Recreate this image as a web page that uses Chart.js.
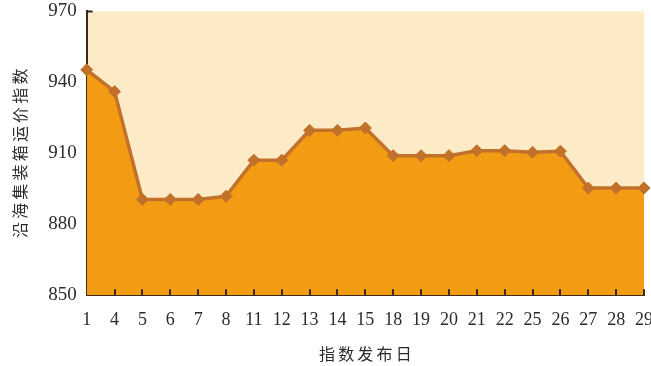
<!DOCTYPE html>
<html>
<head>
<meta charset="utf-8">
<script src="https://cdn.jsdelivr.net/npm/chart.js@4"></script>
<style>
  html, body { margin: 0; padding: 0; background: #fff; overflow: hidden; }
  #wrap { width: 667px; height: 376px; margin-top: -10px; }
</style>
</head>
<body>
<div id="wrap"><canvas id="chart"></canvas></div>
<script>
// 指数发布日
const days = ['1', '4', '5', '6', '7', '8', '11', '12', '13', '14', '15', '18', '19', '20', '21', '22', '25', '26', '27', '28', '29'];
// 沿海集装箱运价指数
const indexValues = [945.3, 936.1, 890.5, 890.5, 890.5, 891.8, 907.1, 907.1, 919.7, 919.7, 920.7, 909.0, 909.0, 909.0, 911.1, 911.1, 910.4, 910.9, 895.3, 895.3, 895.3];
const yTicks = [850, 880, 910, 940, 970];

// 字间距
const spaced = s => s.split('').join('\u2009');

// 绘图区背景 + 向内的刻度线
const plotDecor = {
    id: 'plotDecor',
    beforeDraw(chart) {
        const a = chart.chartArea;
        const ctx = chart.ctx;
        ctx.save();
        ctx.fillStyle = '#FCEBC6';
        ctx.fillRect(a.left, a.top, a.right - a.left, a.bottom - a.top);
        ctx.restore();
    },
    afterDraw(chart) {
        const a = chart.chartArea;
        const ctx = chart.ctx;
        const x = chart.scales.x;
        ctx.save();
        ctx.strokeStyle = '#3B2A1C';
        ctx.lineWidth = 2;
        ctx.beginPath();
        for (let i = 1; i < days.length; i++) {
            const px = Math.round(x.getPixelForTick(i));
            ctx.moveTo(px, a.bottom);
            ctx.lineTo(px, a.bottom - 6);
        }
        // 顶部短刻度
        ctx.moveTo(a.left, a.top);
        ctx.lineTo(a.left + 6, a.top);
        ctx.stroke();
        ctx.restore();
    }
};

new Chart(document.getElementById('chart').getContext('2d'), {
    type: 'line',
    data: {
        labels: days,
        datasets: [{
            label: '沿海集装箱运价指数',
            data: indexValues,
            borderColor: '#C2712A',
            backgroundColor: '#F39C13',
            fill: 'start',
            borderWidth: 3.5,
            tension: 0,
            pointStyle: 'rectRot',
            pointRadius: 6,
            pointBackgroundColor: '#C2712A',
            pointBorderColor: '#C2712A',
            pointBorderWidth: 1
        }]
    },
    options: {
        responsive: true,
        maintainAspectRatio: false,
        animation: false,
        layout: { padding: { top: 0, left: 10, right: 0, bottom: 2 } },
        plugins: {
            legend: { display: false },
            tooltip: { enabled: false }
        },
        scales: {
            x: {
                offset: false,
                grid: { display: false, drawTicks: false },
                border: { color: '#3B2A1C', width: 2 },
                ticks: {
                    padding: 14,
                    maxRotation: 0,
                    autoSkip: false,
                    color: '#2B2B2B',
                    font: { family: '"Liberation Serif", serif', size: 18 }
                },
                title: {
                    display: true,
                    text: spaced('指数发布日'),
                    color: '#2B2B2B',
                    padding: { top: 0, bottom: 0 },
                    font: { family: '"Noto Sans CJK SC", sans-serif', size: 16 }
                }
            },
            y: {
                min: 850,
                max: 970,
                afterBuildTicks(scale) {
                    scale.ticks = yTicks.map(v => ({ value: v }));
                },
                grid: {
                    drawTicks: false,
                    color: ctx => (ctx.tick && (ctx.tick.value === 850 || ctx.tick.value === 970)) ? 'rgba(0,0,0,0)' : '#FDEBC4',
                    lineWidth: 1.5
                },
                border: { color: '#3B2A1C', width: 2 },
                ticks: {
                    padding: 10,
                    color: '#2B2B2B',
                    font: { family: '"Liberation Serif", serif', size: 19 }
                },
                title: {
                    display: true,
                    text: spaced('沿海集装箱运价指数'),
                    color: '#2B2B2B',
                    padding: { top: 0, bottom: 9 },
                    font: { family: '"Noto Sans CJK SC", sans-serif', size: 16 }
                }
            }
        }
    },
    plugins: [plotDecor]
});
</script>
</body>
</html>
